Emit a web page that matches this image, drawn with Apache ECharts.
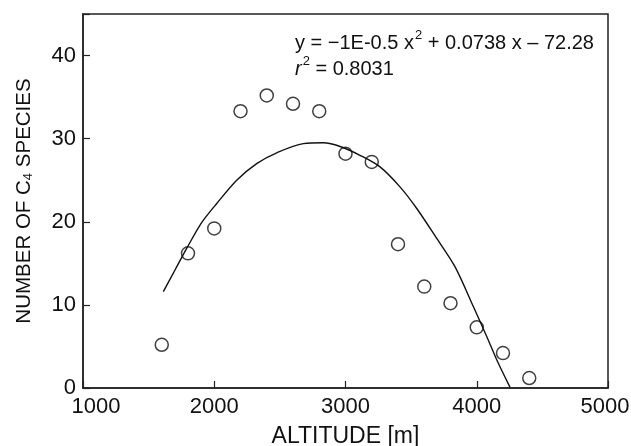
<!DOCTYPE html>
<html><head><meta charset="utf-8">
<script src="https://cdn.jsdelivr.net/npm/echarts@6/dist/echarts.min.js"></script>
<style>html,body{margin:0;padding:0;background:#fff}#c{width:631px;height:446px}</style>
</head><body><div id="c"></div>
<script>
var altitudes = [1600, 1800, 2000, 2200, 2400, 2600, 2800, 3000, 3200, 3400, 3600, 3800, 4000, 4200, 4400];
var speciesCounts = [5.2, 16.2, 19.2, 33.3, 35.2, 34.2, 33.3, 28.2, 27.2, 17.3, 12.2, 10.2, 7.3, 4.2, 1.2];
var fitX = [1612, 1701, 1790, 1904, 2019, 2171, 2323, 2476, 2679, 2831, 2970, 3110, 3263, 3415, 3543, 3695, 3834, 3974, 4076, 4152, 4253];
var fitY = [11.6, 14.2, 16.8, 19.9, 22.2, 25.0, 27.0, 28.3, 29.4, 29.5, 29.0, 28.0, 26.6, 24.2, 21.6, 18.0, 14.6, 9.8, 6.2, 3.4, 0.1];
var xTicks = [1000, 2000, 3000, 4000, 5000];
var yTicks = [0, 10, 20, 30, 40];

var font = '"Liberation Sans", Arial, sans-serif';
var chart = echarts.init(document.getElementById('c'));
chart.setOption({
  animation: false,
  backgroundColor: '#fff',
  grid: { left: 83, right: 23, top: 14, bottom: 58, containLabel: false, outerBoundsMode: 'none', show: true, borderColor: '#222', borderWidth: 1.5, backgroundColor: 'transparent' },
  title: {
    left: 290, top: 22,
    text: '{n|y = \u22121E-0.5 x}{s|2}{n| + 0.0738 x \u2013 72.28}\n{i|r}{s|2}{n| = 0.8031}',
    textStyle: {
      fontFamily: font, fontWeight: 'normal',
      rich: {
        n: { fontFamily: font, fontWeight: 'normal', fontSize: 20, color: '#111', lineHeight: 26, verticalAlign: 'bottom' },
        i: { fontFamily: font, fontWeight: 'normal', fontSize: 20, color: '#111', fontStyle: 'italic', lineHeight: 26, verticalAlign: 'bottom' },
        s: { fontFamily: font, fontWeight: 'normal', fontSize: 13, color: '#111', lineHeight: 26, verticalAlign: 'top', padding: [2, 0, 0, 1] }
      }
    }
  },
  xAxis: {
    type: 'value', min: 1000, max: 5000, interval: 1000,
    name: 'ALTITUDE [m]', nameLocation: 'middle', nameGap: 37,
    nameTextStyle: { fontFamily: font, fontSize: 23, color: '#111' },
    axisLine: { show: true, lineStyle: { color: '#222', width: 1.5 } },
    axisTick: { show: true, inside: true, length: 7, lineStyle: { color: '#222', width: 1.2 } },
    splitLine: { show: false },
    axisLabel: {
      fontFamily: font, fontSize: 22, color: '#111', margin: 8,
      formatter: function (v) {
        if (v === xTicks[0]) return '{f|' + v + '}';
        if (v === xTicks[xTicks.length - 1]) return '{l|' + v + '}';
        return String(v);
      },
      rich: {
        f: { fontFamily: font, fontSize: 22, color: '#111', padding: [0, 0, 0, 26] },
        l: { fontFamily: font, fontSize: 22, color: '#111', padding: [0, 6, 0, 0] }
      }
    }
  },
  yAxis: {
    type: 'value', min: 0, max: 45, interval: 10,
    name: 'NUMBER OF C{b|4} SPECIES', nameLocation: 'middle', nameGap: 48,
    nameTextStyle: {
      fontFamily: font, fontSize: 20.5, color: '#111',
      rich: { b: { fontFamily: font, fontSize: 13, color: '#111', verticalAlign: 'bottom', padding: [7, 0, 0, 0] } }
    },
    axisLine: { show: true, lineStyle: { color: '#222', width: 1.5 } },
    axisTick: { show: true, inside: true, length: 7, lineStyle: { color: '#222', width: 1.2 } },
    splitLine: { show: false },
    axisLabel: {
      fontFamily: font, fontSize: 22, color: '#111', margin: 7,
      formatter: function (v) { return yTicks.indexOf(v) >= 0 ? String(v) : ''; }
    }
  },
  series: [
    {
      type: 'line', data: fitX.map(function (x, i) { return [x, fitY[i]]; }),
      showSymbol: false, smooth: 0.3, lineStyle: { color: '#111', width: 1.4 }, z: 2
    },
    {
      type: 'scatter', data: altitudes.map(function (x, i) { return [x, speciesCounts[i]]; }),
      symbol: 'circle', symbolSize: 13,
      itemStyle: { color: 'rgba(255,255,255,0)', borderColor: '#111', borderWidth: 1.5 }, z: 3
    }
  ]
});
</script></body></html>
